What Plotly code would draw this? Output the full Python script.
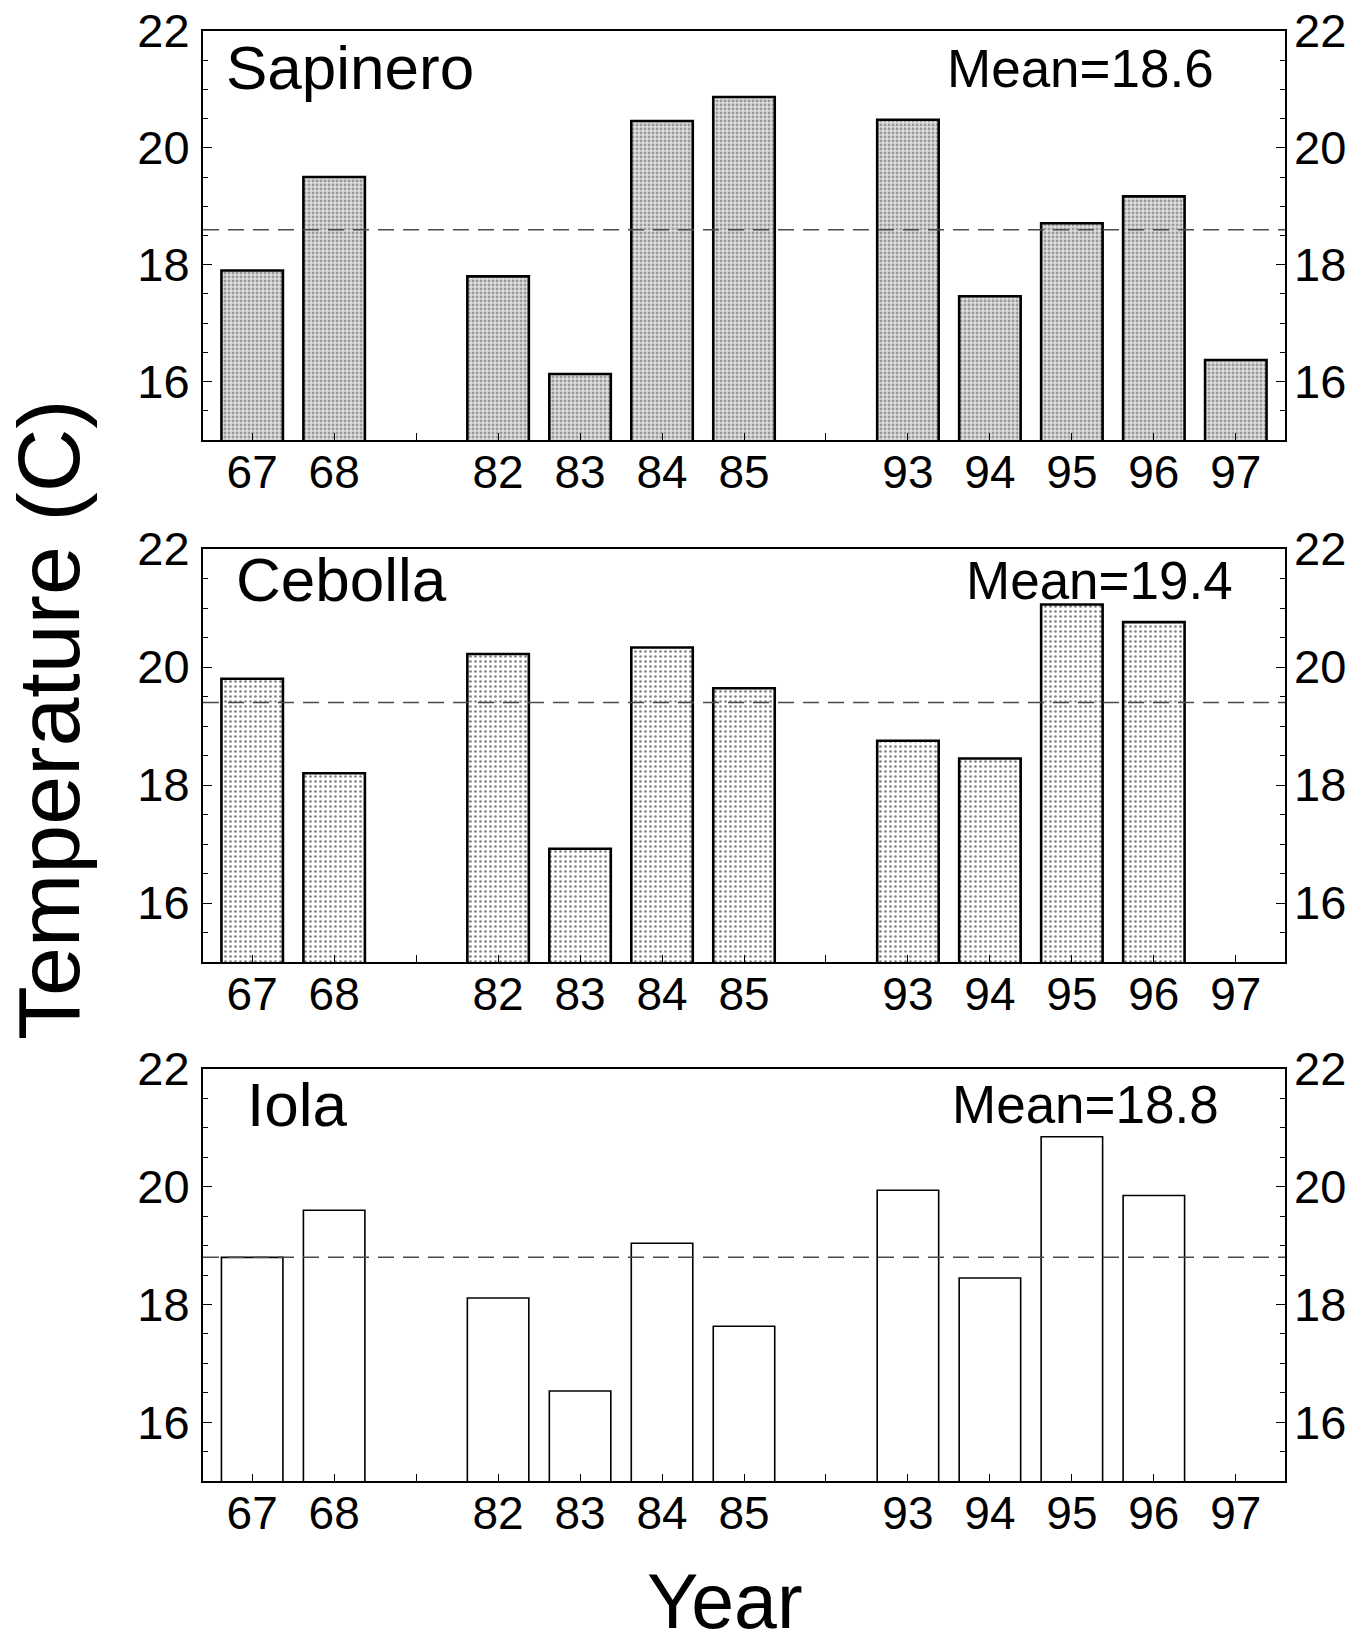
import plotly.graph_objects as go

# Year slots along the x axis; None marks a gap between sampling periods
slots = ["67", "68", None, "82", "83", "84", "85", None, "93", "94", "95", "96", "97"]

sites = ["Sapinero", "Cebolla", "Iola"]

sapinero = {"67": 17.9, "68": 19.5, "82": 17.8, "83": 16.13, "84": 20.46, "85": 20.87,
            "93": 20.48, "94": 17.46, "95": 18.71, "96": 19.17, "97": 16.37}
cebolla = {"67": 19.8, "68": 18.2, "82": 20.22, "83": 16.92, "84": 20.33, "85": 19.64,
           "93": 18.75, "94": 18.45, "95": 21.06, "96": 20.76}
iola = {"67": 18.8, "68": 19.6, "82": 18.11, "83": 16.53, "84": 19.04, "85": 17.63,
        "93": 19.94, "94": 18.45, "95": 20.85, "96": 19.85}

site_values = [sapinero, cebolla, iola]
site_means = [18.6, 19.4, 18.8]

FONT = "Liberation Sans, Arial, sans-serif"

W, H = 1366, 1633
M_L, M_R, M_T, M_B = 203, 81, 31, 152
plot_h = H - M_T - M_B
plot_bottom = H - M_B

# panel top/bottom edges in page pixels
panel_px = [(31, 440), (549, 962), (1069, 1481)]
domains = [[(plot_bottom - b) / plot_h, min(1.0, (plot_bottom - t) / plot_h)] for t, b in panel_px]

name_x = [0.0194, 0.029, 0.039]
name_y = [0.910, 0.925, 0.915]
mean_x = [0.936, 0.954, 0.941]
mean_y = [0.908, 0.923, 0.913]

patterns = [
    dict(shape=".", size=4, solidity=0.42, fgcolor="#555555", bgcolor="#dedede"),
    dict(shape=".", size=5, solidity=0.22, fgcolor="black", bgcolor="white"),
    None,
]
outline_w = [2.6, 2.6, 1.6]

tickvals = list(range(len(slots)))
ticktext = [s if s is not None else "" for s in slots]

fig = go.Figure()
layout = {}
shapes = []
annotations = []

for i, (site, vals, mean) in enumerate(zip(sites, site_values, site_means)):
    n = i + 1
    xname = "x" if n == 1 else f"x{n}"
    yname = "y" if n == 1 else f"y{n}"
    y_right = f"y{n + 3}"

    xs = [k for k, s in enumerate(slots) if s is not None and s in vals]
    ys = [vals[slots[k]] for k in xs]

    marker = dict(color="white", line=dict(color="black", width=outline_w[i]))
    if patterns[i] is not None:
        marker["pattern"] = patterns[i]

    fig.add_trace(go.Bar(x=xs, y=ys, width=0.75, marker=marker,
                         xaxis=xname, yaxis=yname, showlegend=False))
    # invisible trace that attaches the right-hand axis
    fig.add_trace(go.Scatter(x=[0], y=[15], mode="markers", marker=dict(opacity=0),
                             xaxis=xname, yaxis=y_right, showlegend=False, hoverinfo="skip"))

    axkey = "xaxis" if n == 1 else f"xaxis{n}"
    aykey = "yaxis" if n == 1 else f"yaxis{n}"
    arkey = f"yaxis{n + 3}"

    layout[axkey] = dict(
        domain=[0, 1], anchor=yname, range=[-0.6, 12.6], automargin=False,
        tickmode="array", tickvals=tickvals, ticktext=ticktext,
        ticks="inside", ticklen=7, tickwidth=1, tickcolor="black",
        showline=True, linewidth=2, linecolor="black", mirror=True,
        showgrid=False, zeroline=False, ticklabelstandoff=-9,
        tickfont=dict(family=FONT, size=46, color="black"),
    )
    yaxis_common = dict(
        range=[15, 22], tickmode="array", tickvals=[16, 18, 20, 22], automargin=False,
        ticks="inside", ticklen=9, tickwidth=1, tickcolor="black",
        minor=dict(tickmode="linear", tick0=15, dtick=0.5, ticks="inside",
                   ticklen=5, tickwidth=1, tickcolor="black"),
        showgrid=False, zeroline=False,
        tickfont=dict(family=FONT, size=47, color="black"),
    )
    layout[aykey] = dict(domain=domains[i], anchor=xname, showline=True,
                         linewidth=2, linecolor="black", mirror=True,
                         ticklabelstandoff=2, **yaxis_common)
    layout[arkey] = dict(overlaying=yname, side="right", anchor=xname,
                         showline=False, ticklabelstandoff=8, **yaxis_common)

    shapes.append(dict(type="line", xref=f"{xname} domain", yref=yname,
                       x0=0, x1=1, y0=mean, y1=mean, layer="above",
                       line=dict(color="#4a4a4a", width=1.5, dash="16px,9px")))

    annotations.append(dict(text=site, xref=f"{xname} domain", yref=f"{yname} domain",
                            x=name_x[i], y=name_y[i], xanchor="left", yanchor="middle",
                            showarrow=False, font=dict(family=FONT, size=62, color="black")))
    annotations.append(dict(text=f"Mean={mean}", xref=f"{xname} domain", yref=f"{yname} domain",
                            x=mean_x[i], y=mean_y[i], xanchor="right", yanchor="middle",
                            showarrow=False, font=dict(family=FONT, size=53, color="black")))

annotations.append(dict(text="Temperature (C)", xref="paper", yref="paper",
                        x=(48 - M_L) / (W - M_L - M_R), y=(plot_bottom - 720) / plot_h,
                        xanchor="center", yanchor="middle",
                        textangle=-90, showarrow=False,
                        font=dict(family=FONT, size=88, color="black")))
annotations.append(dict(text="Year", xref="paper", yref="paper",
                        x=0.482, y=(plot_bottom - 1601) / plot_h, xanchor="center", yanchor="middle",
                        showarrow=False, font=dict(family=FONT, size=77, color="black")))

fig.update_layout(
    width=W, height=H,
    margin=dict(l=M_L, r=M_R, t=M_T, b=M_B, autoexpand=False),
    paper_bgcolor="white", plot_bgcolor="white",
    shapes=shapes, annotations=annotations,
    bargap=0.25,
    **layout,
)

fig.write_html("out.html", include_plotlyjs=True, full_html=True,
               config=dict(displayModeBar=False))
